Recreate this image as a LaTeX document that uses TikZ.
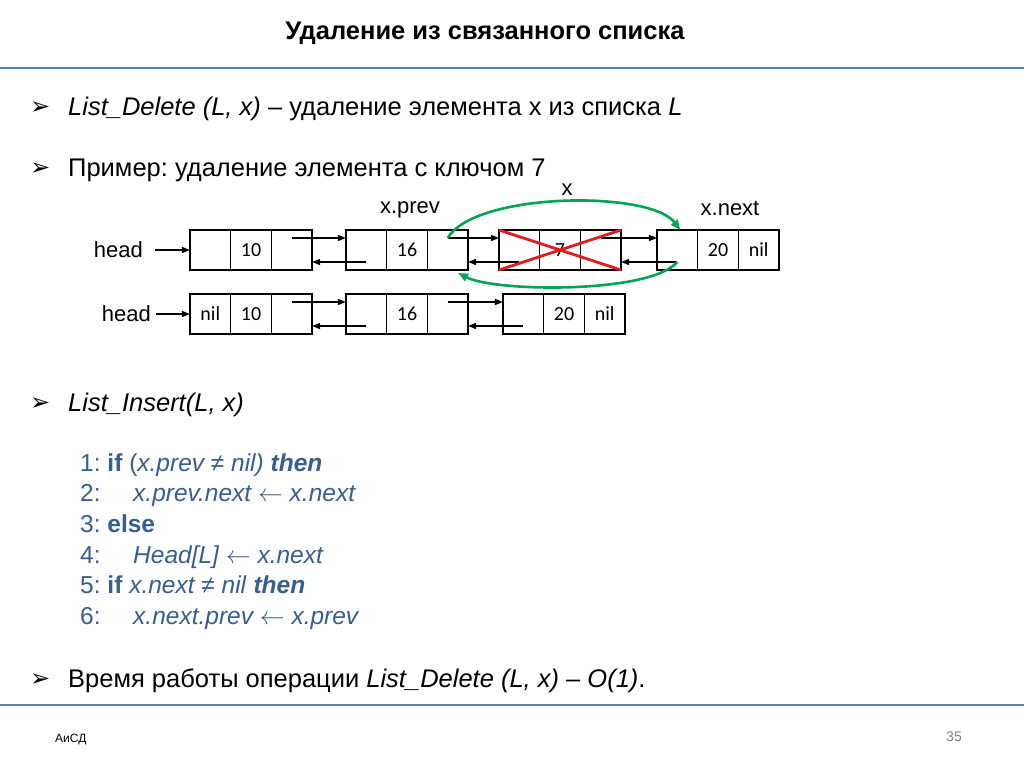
\documentclass[tikz,border=0pt]{standalone}
\usepackage{fontspec}
\setmainfont{Liberation Sans}
\newfontfamily\cellfont{Carlito}
\newfontfamily\symfont{DejaVu Sans}
\usetikzlibrary{positioning}
\usetikzlibrary{arrows.meta}
\frenchspacing
\definecolor{slideblue}{RGB}{79,129,189}
\definecolor{codeblue}{RGB}{55,94,146}
\definecolor{swinggreen}{RGB}{0,166,81}
\definecolor{crossred}{RGB}{228,28,28}
\tikzset{
    node distance=0pt,
    cell/.style={
        draw,
        line width=1.2pt,
        minimum width=40.7pt,
        minimum height=40pt,
        inner sep=0pt,
        outer sep=0pt,
        font=\cellfont\fontsize{20}{20}\selectfont
    },
    ptr/.style={
        -{Triangle[length=8pt,width=6pt]},
        line width=1.2pt
    },
    swing/.style={
        -{Triangle[length=10pt,width=8pt]},
        line width=2.6pt,
        swinggreen
    },
    crossline/.style={
        line width=2.8pt,
        crossred
    },
    lbl/.style={inner sep=2pt, font=\fontsize{22}{22}\selectfont},
    txt/.style={anchor=base west, inner sep=0pt, font=\fontsize{25.5}{25.5}\selectfont},
    codeline/.style={anchor=base west, inner sep=0pt, text=codeblue, font=\fontsize{24.5}{24.5}\selectfont},
    bulletmark/.style={anchor=base west, inner sep=0pt, font=\symfont\fontsize{24}{24}\selectfont},
    bluerule/.style={slideblue, line width=2pt}
}

\begin{document}
\begin{tikzpicture}[x=1pt, y=-1pt]
    \useasboundingbox[fill=white] (0,0) rectangle (1024,767);

    % title and rules
    \node[font=\bfseries\fontsize{25.5}{25.5}\selectfont] (title) at (485,33) {Удаление из связанного списка};
    \draw[bluerule] (0,68) -- (1024,68);
    \draw[bluerule] (0,705) -- (1024,705);

    % bullets
    \node[bulletmark] (m1) at (30,115) {➢};
    \node[txt] (t1) at (68,116) {\textit{List\_Delete (L, x)} – удаление элемента х из списка \textit{L}};
    \node[bulletmark] (m2) at (30,176) {➢};
    \node[txt] (t2) at (68,177) {Пример: удаление элемента с ключом 7};

    % list before deletion
    \node[cell] (a1) at (210.3,250) {};
    \node[cell, right=of a1] (a2) {10};
    \node[cell, right=of a2] (a3) {};
    \node[cell] (b1) at (366.3,250) {};
    \node[cell, right=of b1] (b2) {16};
    \node[cell, right=of b2] (b3) {};
    \node[cell] (c1) at (519.3,250) {};
    \node[cell, right=of c1] (c2) {7};
    \node[cell, right=of c2] (c3) {};
    \node[cell] (d1) at (677.3,250) {};
    \node[cell, right=of d1] (d2) {20};
    \node[cell, right=of d2] (d3) {nil};

    \node[lbl, left=45pt of a1] (head1) {head};
    \node[lbl] (xprev) at (410,210) {x.prev};
    \node[lbl] (xnode) at (567,190) {x};
    \node[lbl] (xnext) at (730,208) {x.next};

    \draw[ptr, shorten <=10pt] (head1) -- (a1);
    \draw[ptr] ([yshift=12pt]a3.center) -- ([yshift=12pt]b1.west);
    \draw[ptr] ([yshift=12pt]b3.center) -- ([yshift=12pt]c1.west);
    \draw[ptr] ([yshift=12pt]c3.center) -- ([yshift=12pt]d1.west);
    \draw[ptr] ([yshift=-12pt]b1.center) -- ([yshift=-12pt]a3.east);
    \draw[ptr] ([yshift=-12pt]c1.center) -- ([yshift=-12pt]b3.east);
    \draw[ptr] ([yshift=-12pt]d1.center) -- ([yshift=-12pt]c3.east);

    % deleted element
    \draw[crossline] (c1.north west) -- (c3.south east);
    \draw[crossline] (c1.south west) -- (c3.north east);

    % new links
    \draw[swing] ([yshift=12pt]b3.center) .. controls (475,192) and (650,190) .. ([xshift=3pt]d1.north);
    \draw[swing] ([yshift=-12pt]d1.center) .. controls (650,294) and (495,292) .. ([xshift=-10pt,yshift=-3pt]b3.south east);

    % list after deletion
    \node[cell] (e1) at (210.3,314) {nil};
    \node[cell, right=of e1] (e2) {10};
    \node[cell, right=of e2] (e3) {};
    \node[cell] (f1) at (366.3,314) {};
    \node[cell, right=of f1] (f2) {16};
    \node[cell, right=of f2] (f3) {};
    \node[cell] (g1) at (523.3,314) {};
    \node[cell, right=of g1] (g2) {20};
    \node[cell, right=of g2] (g3) {nil};

    \node[lbl, left=37pt of e1] (head2) {head};
    \draw[ptr, shorten <=3pt] (head2) -- (e1);
    \draw[ptr] ([yshift=12pt]e3.center) -- ([yshift=12pt]f1.west);
    \draw[ptr] ([yshift=12pt]f3.center) -- ([yshift=12pt]g1.west);
    \draw[ptr] ([yshift=-12pt]f1.center) -- ([yshift=-12pt]e3.east);
    \draw[ptr] ([yshift=-12pt]g1.center) -- ([yshift=-12pt]f3.east);

    % pseudocode
    \node[bulletmark] (m3) at (30,410) {➢};
    \node[txt] (t3) at (68,411) {\textit{List\_Insert(L, x)}};
    \node[codeline] (l1) at (80,471) {1: \textbf{if} (\textit{x.prev ≠ nil)} \textbf{\textit{then}}};
    \node[codeline] (l2) at (80,501) {\makebox[53pt][l]{2:}\textit{x.prev.next $\leftarrow$ x.next}};
    \node[codeline] (l3) at (80,532) {3: \textbf{else}};
    \node[codeline] (l4) at (80,563) {\makebox[53pt][l]{4:}\textit{Head[L] $\leftarrow$ x.next}};
    \node[codeline] (l5) at (80,593) {5: \textbf{if} \textit{x.next ≠ nil} \textbf{\textit{then}}};
    \node[codeline] (l6) at (80,624) {\makebox[53pt][l]{6:}\textit{x.next.prev $\leftarrow$ x.prev}};

    \node[bulletmark] (m4) at (30,686) {➢};
    \node[txt] (t4) at (68,687) {Время работы операции \textit{List\_Delete (L, x) – O(1)}.};

    % footer
    \node[anchor=base west, inner sep=0pt, font=\fontsize{12}{12}\selectfont] (foot) at (55,742) {АиСД};
    \node[anchor=base west, inner sep=0pt, text=gray, font=\fontsize{14}{14}\selectfont] (page) at (946,741) {35};
\end{tikzpicture}
\end{document}
